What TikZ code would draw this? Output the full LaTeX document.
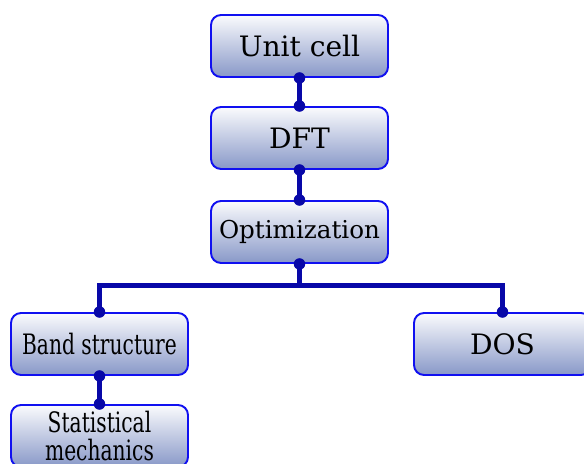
\documentclass[tikz,border=0pt]{standalone}
\usepackage{fontspec}
\setmainfont{DejaVu Serif}
\usetikzlibrary{positioning}
\definecolor{boxline}{RGB}{16,16,240}
\definecolor{boxbot}{RGB}{136,152,200}
\definecolor{linkcol}{RGB}{8,8,168}
\tikzset{
  stage/.style={draw=boxline, line width=1.1pt, rounded corners=5.7pt,
    top color=white!96!boxbot, bottom color=boxbot,
    minimum width=3.54cm, minimum height=1.24cm, align=center,
    font=\fontsize{16}{15.5}\selectfont},
  link/.style={draw=linkcol, line width=2.8pt}
}
\newcommand{\narrow}[1]{\scalebox{0.72}[1]{#1}}
\begin{document}
\begin{tikzpicture}
\useasboundingbox (0,0) rectangle (11.68,-9.28);
%--- Main chain ---
\node[stage] (cell) at (5.99,-0.92) {Unit cell};
\node[stage] (dft)  at (5.99,-2.76) {DFT};
\node[stage, font=\fontsize{14}{15}\selectfont] (opt) at (5.99,-4.64) {Optimization};
%--- Branches ---
\node[stage] (band) at (1.99,-6.88) {\narrow{Band structure}};
\node[stage] (dos)  at (10.05,-6.88) {DOS};
\node[stage] (stat) at (1.99,-8.72) {\narrow{Statistical}\\\narrow{mechanics}};
% Connectors
\draw[link] (cell.south) -- (dft.north);
\draw[link] (dft.south) -- (opt.north);
\draw[link] (opt.south) -- ++(0,-0.44) coordinate (split) -| (band.north);
\draw[link] (split) -| (dos.north);
\draw[link] (band.south) -- (stat.north);
% Dots at the joints
\foreach \p in {cell.south, dft.north, dft.south, opt.north, opt.south,
                band.north, dos.north, band.south, stat.north}
  \fill[linkcol] (\p) circle (0.115);
\end{tikzpicture}
\end{document}
